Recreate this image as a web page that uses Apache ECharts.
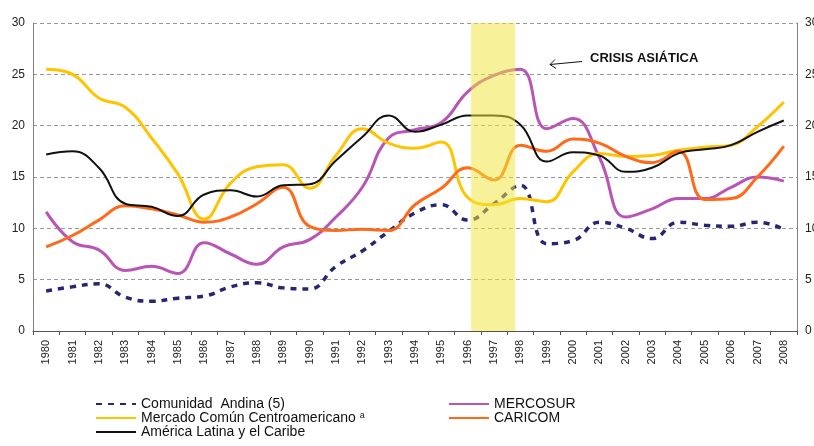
<!DOCTYPE html>
<html>
<head>
<meta charset="utf-8">
<script src="https://cdn.jsdelivr.net/npm/echarts@6/dist/echarts.min.js"></script>
<style>
  html, body { margin: 0; padding: 0; background: #fff; }
  #chart { width: 814px; height: 446px; }
</style>
</head>
<body>
<div id="chart"></div>
<script>
// Integración comercial: series anuales 1980-2008
const years = ['1980','1981','1982','1983','1984','1985','1986','1987','1988','1989','1990','1991','1992','1993','1994',
  '1995','1996','1997','1998','1999','2000','2001','2002','2003','2004','2005','2006','2007','2008'];

const andina   = [3.9, 4.3, 4.6, 3.3, 2.9, 3.2, 3.4, 4.3, 4.7, 4.2, 4.1, 6.3, 7.8, 9.7, 11.5, 12.3, 10.8, 12.4, 14.2, 8.5, 8.8, 10.6, 10.0, 9.0, 10.6, 10.3, 10.2, 10.6, 9.9];
const mercosur = [11.6, 8.7, 7.9, 5.9, 6.3, 5.6, 8.6, 7.5, 6.5, 8.2, 8.9, 11.1, 14.0, 18.8, 19.6, 20.3, 23.3, 24.9, 25.5, 19.7, 20.7, 16.9, 11.1, 11.9, 12.9, 12.9, 14.0, 15.0, 14.6];
const mcca     = [25.5, 25.0, 22.7, 21.8, 18.8, 15.3, 10.9, 14.4, 16.0, 16.2, 13.9, 17.1, 19.7, 18.3, 17.8, 18.4, 13.0, 12.3, 12.9, 12.6, 15.5, 17.3, 17.0, 17.1, 17.6, 17.9, 18.1, 19.9, 22.3];
const caricom  = [8.2, 9.3, 10.8, 12.2, 11.9, 11.3, 10.6, 11.1, 12.4, 14.0, 10.2, 9.8, 9.9, 9.8, 12.3, 13.9, 15.9, 14.7, 18.1, 17.5, 18.7, 18.3, 17.0, 16.4, 17.5, 12.8, 12.9, 15.0, 18.0];
const alc      = [17.2, 17.5, 15.9, 12.4, 12.1, 11.2, 13.3, 13.7, 13.1, 14.2, 14.3, 16.6, 18.9, 21.0, 19.4, 20.1, 21.0, 21.0, 20.1, 16.5, 17.4, 17.1, 15.5, 15.9, 17.3, 17.7, 18.1, 19.4, 20.5];

const yTicks = [0, 5, 10, 15, 20, 25, 30];
const crisisBand = [1996.13, 1997.8];   // crisis asiática (en años)

const FONT = "'Liberation Sans', Arial, sans-serif";
const GRAY = '#808080';

const N_ANDINA = 'Comunidad  Andina (5)';
const N_MERC = 'MERCOSUR';
const N_MCCA = 'Mercado Común Centroamericano';
const N_CARI = 'CARICOM';
const N_ALC = 'América Latina y el Caribe';

function line(name, data, color, width, type) {
  return {
    name, type: 'line', data,
    smooth: 0.45, showSymbol: false, symbol: 'none',
    lineStyle: { color, width, type: type || 'solid', cap: 'butt' },
    itemStyle: { color },
    z: 3
  };
}

const legendText = {
  fontFamily: FONT, fontSize: 14, color: '#111', lineHeight: 14,
  rich: { sup: { fontSize: 9, verticalAlign: 'top', padding: [0, 0, 6, 0], fontFamily: FONT, color: '#111' } }
};

// one legend per entry, to keep the two-column layout of the original
function legendItem(name, left, top) {
  return {
    left, top, orient: 'horizontal', padding: 0,
    itemWidth: 40, itemHeight: 10, itemGap: 0,
    data: [name],
    itemStyle: { opacity: 0 },
    textStyle: legendText,
    formatter: n => n === N_MCCA ? n + ' {sup|a}' : n
  };
}

const chart = echarts.init(document.getElementById('chart'), null, { renderer: 'canvas' });

chart.setOption({
  animation: false,
  backgroundColor: '#fff',
  textStyle: { fontFamily: FONT },
  grid: { left: 33, right: 17, top: 23, bottom: 115, containLabel: false, outerBoundsMode: 'none' },
  xAxis: [{
    type: 'category',
    data: years,
    boundaryGap: true,
    axisLine: { lineStyle: { color: '#555', width: 1 } },
    axisTick: { show: true, length: 4, lineStyle: { color: '#555' } },
    axisLabel: { rotate: 90, fontSize: 11, color: '#222', margin: 9, fontFamily: FONT, interval: 0 },
    splitLine: { show: false }
  }, {
    type: 'value', min: 1979.5, max: 2008.5, show: false
  }],
  yAxis: [{
    type: 'value', min: yTicks[0], max: yTicks[yTicks.length - 1], interval: 5,
    axisLine: { show: true, lineStyle: { color: GRAY } },
    axisTick: { show: false },
    axisLabel: { fontSize: 12, color: '#222', margin: 8, fontFamily: FONT },
    splitLine: { show: true, lineStyle: { color: '#9a9a9a', type: [4, 3], width: 1 } }
  }, {
    type: 'value', position: 'right', min: yTicks[0], max: yTicks[yTicks.length - 1], interval: 5,
    axisLine: { show: true, lineStyle: { color: GRAY } },
    axisTick: { show: false },
    axisLabel: { fontSize: 12, color: '#222', margin: 8, fontFamily: FONT },
    splitLine: { show: false }
  }],
  legend: [
    legendItem(N_ANDINA, 95, 397),
    legendItem(N_MERC, 448, 397),
    legendItem(N_MCCA, 95, 411),
    legendItem(N_CARI, 448, 411),
    legendItem(N_ALC, 95, 425)
  ],
  graphic: [{
    type: 'text', left: 590, top: 52, silent: true,
    style: { text: 'CRISIS ASIÁTICA', font: 'bold 13px ' + FONT, fill: '#111' }
  }, {
    type: 'group', silent: true,
    children: [
      { type: 'line', shape: { x1: 582, y1: 61.5, x2: 550, y2: 64.5 }, style: { stroke: '#111', lineWidth: 1 } },
      { type: 'polyline', shape: { points: [[555, 59.5], [550, 64.5], [556, 68.5]] }, style: { stroke: '#111', lineWidth: 1, fill: null } }
    ]
  }],
  series: [
    line(N_ANDINA, andina, '#262673', 3.5, [6, 6]),
    line(N_MERC, mercosur, '#b955b5', 3),
    line(N_MCCA, mcca, '#ffc400', 3),
    line(N_CARI, caricom, '#ff6a1a', 3),
    line(N_ALC, alc, '#111111', 2),
    {
      name: 'banda', type: 'line', xAxisIndex: 1, yAxisIndex: 0, data: [], z: 10,
      markArea: {
        silent: true,
        z: 10,
        itemStyle: { color: 'rgba(240,230,60,0.52)' },
        data: [[{ xAxis: crisisBand[0] }, { xAxis: crisisBand[1] }]]
      }
    }
  ]
});
</script>
</body>
</html>
